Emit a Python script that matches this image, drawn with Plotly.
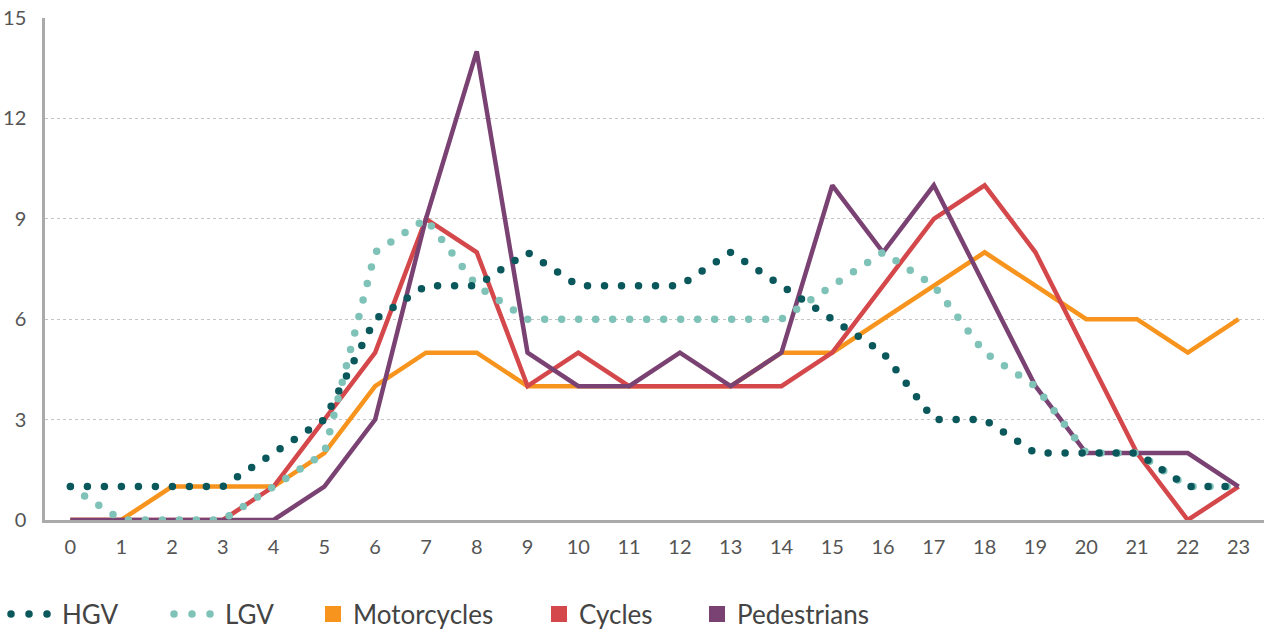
import plotly.graph_objects as go

hours = list(range(24))
hgv = [1, 1, 1, 1, 2, 3, 6, 7, 7, 8, 7, 7, 7, 8, 7, 6, 5, 3, 3, 2, 2, 2, 1, 1]
lgv = [1, 0, 0, 0, 1, 2, 8, 9, 7, 6, 6, 6, 6, 6, 6, 7, 8, 7, 5, 4, 2, 2, 1, 1]
motorcycles = [0, 0, 1, 1, 1, 2, 4, 5, 5, 4, 4, 4, 4, 4, 5, 5, 6, 7, 8, 7, 6, 6, 5, 6]
cycles = [0, 0, 0, 0, 1, 3, 5, 9, 8, 4, 5, 4, 4, 4, 4, 5, 7, 9, 10, 8, 5, 2, 0, 1]
pedestrians = [0, 0, 0, 0, 0, 1, 3, 9, 14, 5, 4, 4, 5, 4, 5, 10, 8, 10, 7, 4, 2, 2, 2, 1]
y_ticks = [0, 3, 6, 9, 12, 15]

FONT = "Lato, 'Noto Sans', sans-serif"

fig = go.Figure()

solid = [
    ("Motorcycles", motorcycles, "#f7941d", "legend3", 313),
    ("Cycles", cycles, "#d4474a", "legend4", 539),
    ("Pedestrians", pedestrians, "#7a4272", "legend5", 697),
]
dotted = [
    ("LGV", lgv, "#7fc2b8", "legend2", 163),
    ("HGV", hgv, "#0b585c", "legend", 0),
]

for name, vals, col, leg, _ in solid:
    fig.add_trace(go.Scatter(x=hours, y=vals, mode="lines", name=name,
                             line=dict(color=col, width=4.5),
                             showlegend=False))

for name, vals, col, leg, _ in dotted:
    fig.add_trace(go.Scatter(x=hours, y=vals, mode="lines", name=name,
                             line=dict(color=col, width=7.5, dash="dot"),
                             legend=leg))

# square legend keys for the solid lines
for name, vals, col, leg, _ in solid:
    fig.add_trace(go.Scatter(x=[None], y=[None], mode="markers", name=name,
                             marker=dict(symbol="square", size=18, color=col),
                             legend=leg))

# plot area spans page x 45..1264
def legend_box(px, itemwidth):
    return dict(x=(px - 45) / 1219, xref="paper", xanchor="left",
                y=1 - (614 / 633), yref="container", yanchor="middle",
                orientation="h", itemwidth=itemwidth, borderwidth=0,
                bgcolor="rgba(0,0,0,0)",
                font=dict(size=26, color="#444444", family=FONT))

legends = {}
for name, vals, col, leg, px in dotted:
    legends[leg] = legend_box(px, 52)
for name, vals, col, leg, px in solid:
    legends[leg] = legend_box(px, 30)

fig.update_layout(
    width=1266, height=633,
    margin=dict(l=45, r=2, t=18, b=113),
    plot_bgcolor="white", paper_bgcolor="white",
    font=dict(family=FONT, color="#555555"),
    showlegend=True,
    xaxis=dict(range=[-0.5, 23.5], tickvals=hours, showgrid=False,
               showline=True, linecolor="#aaaaaa", linewidth=2.5, zeroline=False,
               tickfont=dict(size=20, color="#555555"), ticks="",
               ticklabelstandoff=7, automargin=False),
    yaxis=dict(range=[0, 15], tickvals=y_ticks, showgrid=True,
               gridcolor="#c4c4c4", griddash="dot", gridwidth=1,
               showline=True, linecolor="#aaaaaa", linewidth=2.5, zeroline=False,
               tickfont=dict(size=20, color="#555555"), ticks="",
               ticklabelstandoff=12, automargin=False),
    **legends,
)

# drop the page margin and turn the dotted lines into round dots
post = """
document.body.style.margin = '0';
var gd = document.getElementById('{plot_id}');
function roundDots() {
  gd.querySelectorAll('path.js-line').forEach(function (p) {
    var da = p.style.strokeDasharray;
    if (da && da !== 'none') {
      p.style.strokeLinecap = 'round';
      if (p.closest('.scatterlayer')) {
        p.style.strokeDasharray = '0px 17px';
      } else {
        p.style.strokeDasharray = '0px 18px';
        p.style.strokeDashoffset = '-6px';
      }
    }
  });
}
roundDots();
gd.on('plotly_afterplot', roundDots);
"""

fig.write_html("out.html", post_script=post, config={"displayModeBar": False})
